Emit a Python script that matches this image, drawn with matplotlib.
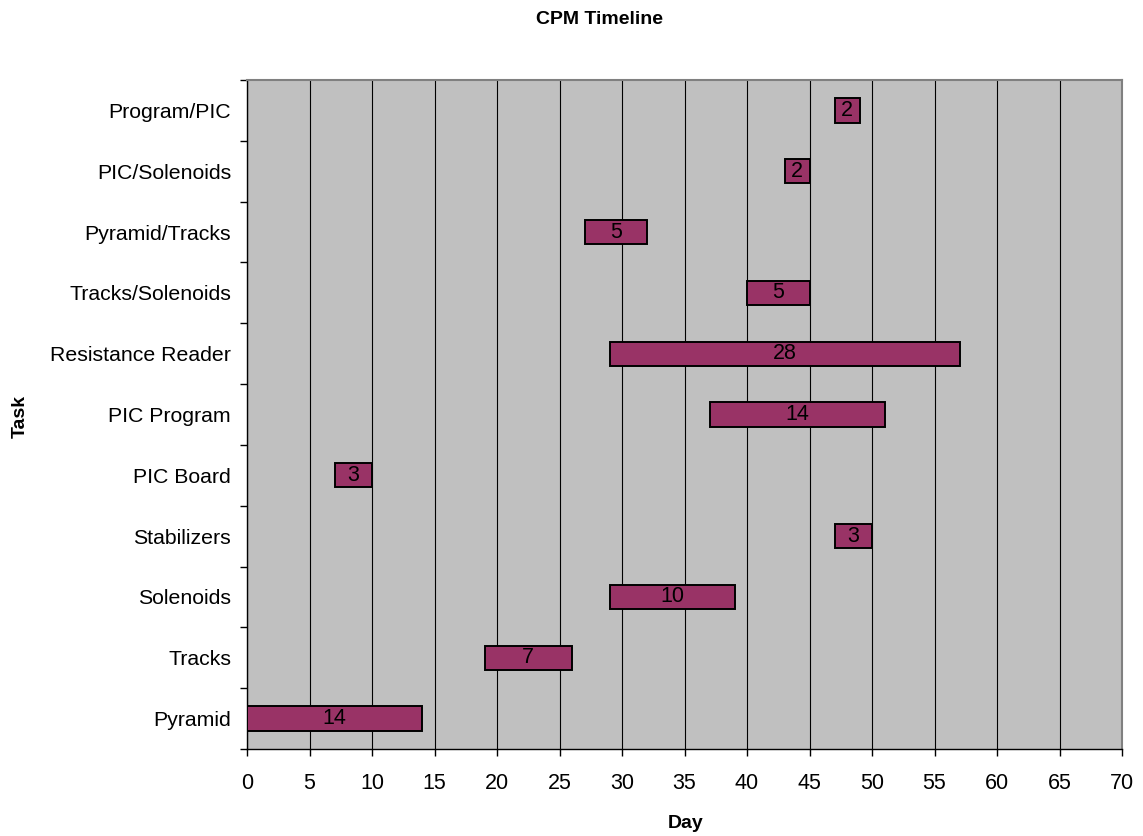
import matplotlib.pyplot as plt
import numpy as np

plt.rcParams['font.family'] = ['Liberation Sans', 'DejaVu Sans']

# task data, bottom to top
tasks = ["Pyramid", "Tracks", "Solenoids", "Stabilizers", "PIC Board", "PIC Program",
         "Resistance Reader", "Tracks/Solenoids", "Pyramid/Tracks", "PIC/Solenoids", "Program/PIC"]
start = [0, 19, 29, 47, 7, 37, 29, 40, 27, 43, 47]
duration = [14, 7, 10, 3, 3, 14, 28, 5, 5, 2, 2]

fig = plt.figure(figsize=(11.43, 8.36), dpi=100)
ax = fig.add_axes([247/1143, 1 - 749/836, (1122-247)/1143, (749-80)/836])
ax.set_facecolor('#c0c0c0')

y = np.arange(len(tasks))
ax.barh(y, duration, left=start, height=0.4, color='#993366', edgecolor='black', linewidth=1.4, zorder=3)
for yi, s, d in zip(y, start, duration):
    ax.text(s + d/2, yi, str(d), ha='center', va='center', fontsize=15.5, zorder=4)

ax.set_xlim(0, 70)
ax.set_ylim(-0.5, len(tasks) - 0.5)
ax.set_xticks(np.arange(0, 71, 5))
ax.xaxis.grid(True, color='black', linewidth=0.8, zorder=1)
ax.set_axisbelow(True)

ax.set_yticks(y)
ax.set_yticklabels(tasks)
ax.set_yticks(np.arange(-0.5, len(tasks), 1), minor=True)
ax.tick_params(axis='y', which='major', length=0, pad=11.5, labelsize=15.3)
ax.tick_params(axis='y', which='minor', length=5, width=1, direction='out')
ax.tick_params(axis='x', length=5, width=1, direction='out', pad=12, labelsize=15.5)

for sp in ['top', 'right']:
    ax.spines[sp].set_color('#808080')
    ax.spines[sp].set_linewidth(1.5)
for sp in ['left', 'bottom']:
    ax.spines[sp].set_color('black')
    ax.spines[sp].set_linewidth(1)

fig.text(600/1143, 1 - 20/836, "CPM Timeline", ha='center', va='center', fontsize=14, fontweight='bold')
fig.text(686/1143, 1 - 823/836, "Day", ha='center', va='center', fontsize=14, fontweight='bold')
fig.text(20/1143, 1 - 417/836, "Task", ha='center', va='center', rotation=90, fontsize=14, fontweight='bold')

fig.savefig('out.png', dpi=100)
